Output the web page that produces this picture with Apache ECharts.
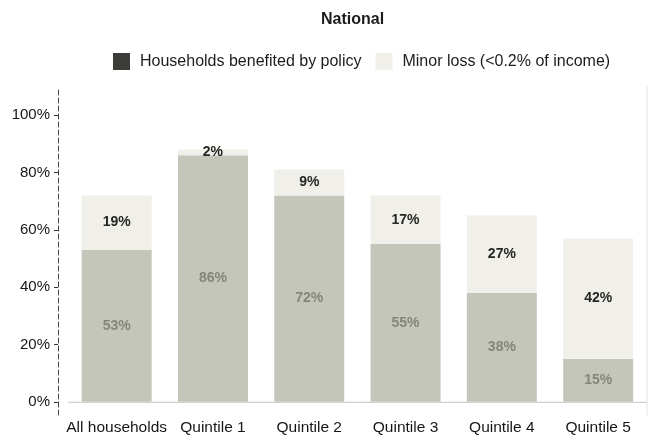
<!DOCTYPE html>
<html>
<head>
<meta charset="utf-8">
<script src="https://cdn.jsdelivr.net/npm/echarts@6/dist/echarts.min.js"></script>
<style>
  html, body { margin: 0; padding: 0; background: #ffffff; }
  #chart { width: 652px; height: 437px; }
</style>
</head>
<body>
<div id="chart"></div>
<script>
// Share of households by income group
const categories = ['All households', 'Quintile 1', 'Quintile 2', 'Quintile 3', 'Quintile 4', 'Quintile 5'];
const benefited = [53, 86, 72, 55, 38, 15];
const minorLoss = [19, 2, 9, 17, 27, 42];
const yTicks = [0, 20, 40, 60, 80, 100];

const FONT = '"Liberation Sans", Arial, sans-serif';

const chart = echarts.init(document.getElementById('chart'), null, { renderer: 'canvas' });

chart.setOption({
  animation: false,
  backgroundColor: '#ffffff',
  textStyle: { fontFamily: FONT },
  title: {
    text: 'National',
    left: 316,
    top: 7,
    textStyle: { fontFamily: FONT, fontSize: 16, fontWeight: 'bold', color: '#1c1c1c' }
  },
  legend: {
    top: 48,
    left: 108,
    icon: 'rect',
    itemWidth: 17,
    itemHeight: 17,
    itemGap: 14,
    textStyle: { fontFamily: FONT, fontSize: 16, color: '#1c1c1c', padding: [0, 0, 0, 5] },
    data: [
      { name: 'Households benefited by policy', itemStyle: { color: '#3b3b38' } },
      { name: 'Minor loss (<0.2% of income)', itemStyle: { color: '#f1efea' } }
    ]
  },
  grid: { left: 68.5, right: 5.7, top: 87, bottom: 22 },
  xAxis: [
    {
      type: 'category',
      data: categories,
      axisLine: { lineStyle: { color: '#8a8a8a', width: 1 } },
      axisTick: { alignWithLabel: true, length: 3, lineStyle: { color: '#666' } },
      axisLabel: { fontFamily: FONT, fontSize: 15.5, color: '#161616', margin: 5, interval: 0 }
    },
    {
      type: 'category',
      position: 'top',
      data: categories,
      axisLine: { lineStyle: { color: '#ececec', width: 1.5 } },
      axisTick: { show: false },
      axisLabel: { show: false }
    }
  ],
  yAxis: [
    {
      type: 'value',
      min: -4.6,
      max: 109.8,
      offset: 10.5,
      splitLine: { show: false },
      axisLine: { show: true, lineStyle: { color: '#444', width: 1, type: [5, 3] } },
      axisTick: { show: true, length: 4, customValues: yTicks, lineStyle: { color: '#333' } },
      axisLabel: {
        customValues: yTicks,
        formatter: v => v + '%',
        fontFamily: FONT, fontSize: 15, color: '#161616', margin: 8
      }
    },
    {
      type: 'value',
      position: 'right',
      min: -4.6,
      max: 109.8,
      splitLine: { show: false },
      axisLine: { show: true, lineStyle: { color: '#ececec', width: 1.5 } },
      axisTick: { show: false },
      axisLabel: { show: false }
    }
  ],
  series: [
    {
      name: 'Households benefited by policy',
      type: 'bar',
      stack: 'total',
      data: benefited,
      barWidth: 70,
      itemStyle: { color: '#c5c6ba' },
      label: {
        show: true,
        position: 'inside',
        formatter: p => p.value + '%',
        fontFamily: FONT, fontSize: 14, fontWeight: 'bold', color: '#85857d'
      }
    },
    {
      name: 'Minor loss (<0.2% of income)',
      type: 'bar',
      stack: 'total',
      data: minorLoss,
      barWidth: 70,
      itemStyle: { color: '#f1efea' },
      label: {
        show: true,
        position: 'inside',
        formatter: p => p.value + '%',
        fontFamily: FONT, fontSize: 14, fontWeight: 'bold', color: '#262622'
      }
    }
  ]
});
</script>
</body>
</html>
